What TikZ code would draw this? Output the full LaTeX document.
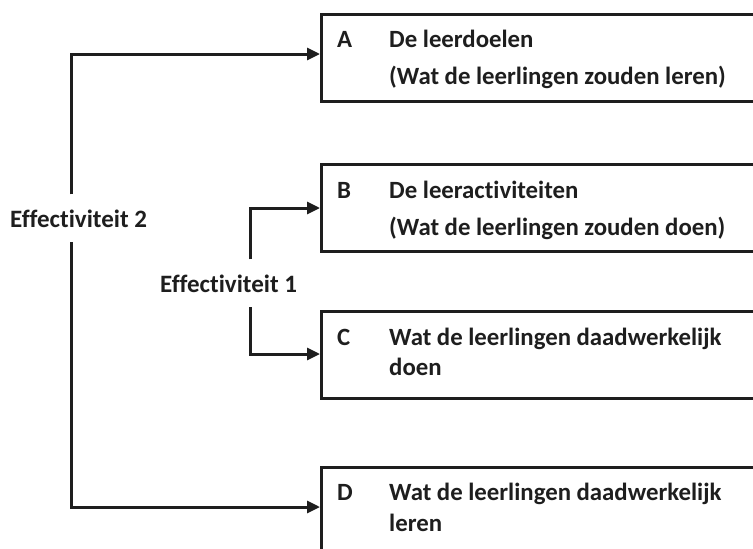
\documentclass[tikz,border=0pt]{standalone}
\usepackage{fontspec}
\setmainfont{Carlito}[Ligatures={NoCommon}]
\usetikzlibrary{arrows.meta}
\definecolor{ink}{HTML}{1E1E1E}
\begin{document}
\begin{tikzpicture}[x=1pt,y=-1pt,
  conn/.style={line width=3pt, draw=ink},
  arr/.style={conn, -{Triangle[length=13pt,width=12pt]}},
  box/.style={draw=ink, line width=3pt, minimum width=470pt, minimum height=87pt, anchor=north west, inner sep=0pt},
  lbl/.style={font=\fontsize{25}{30}\selectfont\bfseries, text=ink, anchor=base west, inner xsep=0pt, inner ysep=15pt},
  letter/.style={font=\fontsize{24.8}{30}\selectfont\bfseries, text=ink, anchor=base west, inner sep=0pt},
  txt/.style={font=\fontsize{24.8}{30}\selectfont\bfseries, text=ink, anchor=base west, inner sep=0pt}
]
\useasboundingbox[fill=white] (0,0) rectangle (753,549);

% boxes
\node[box] (A) at (320,13) {};
\node[box] (B) at (320,163) {};
\node[box] (C) at (320,310) {};
\node[box, minimum height=110pt] (D) at (320,466) {};

% box texts
\node[letter] (Al) at (337,47) {A};
\node[txt] (A1) at (389,47) {De leerdoelen};
\node[txt] (A2) at (389,84) {(Wat de leerlingen zouden leren)};
\node[letter] (Bl) at (337,198) {B};
\node[txt] (B1) at (389,198) {De leeractiviteiten};
\node[txt] (B2) at (389,235) {(Wat de leerlingen zouden doen)};
\node[letter] (Cl) at (337,345) {C};
\node[txt] (C1) at (389,345) {Wat de leerlingen daadwerkelijk};
\node[txt] (C2) at (389,375) {doen};
\node[letter] (Dl) at (337,500) {D};
\node[txt] (D1) at (389,500) {Wat de leerlingen daadwerkelijk};
\node[txt] (D2) at (389,531) {leren};

% labels
\node[lbl] (E2) at (10,227) {Effectiviteit 2};
\node[lbl] (E1) at (160,292) {Effectiviteit 1};

% corner points
\coordinate (t2) at (71,54);
\coordinate (b2) at (71,507);
\coordinate (t1) at (250,208);
\coordinate (b1) at (250,354);

% connectors
\draw[arr] (E2.north -| t2) -- (t2) -- (t2 -| A.west);
\draw[arr] (E2.south -| b2) -- (b2) -- (b2 -| D.west);
\draw[arr] (E1.north -| t1) -- (t1) -- (t1 -| B.west);
\draw[arr] (E1.south -| b1) -- (b1) -- (b1 -| C.west);
\end{tikzpicture}
\end{document}
